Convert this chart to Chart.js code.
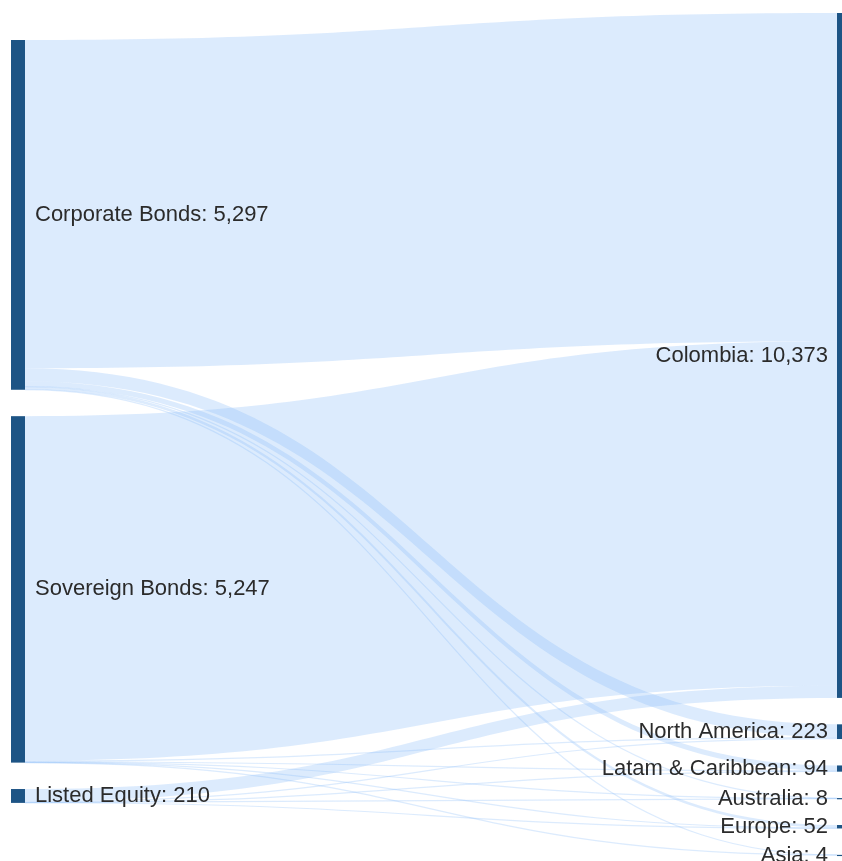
<!DOCTYPE html>
<html>
<head>
<meta charset="utf-8">
<script src="https://cdn.jsdelivr.net/npm/chart.js@4"></script>
<style>
  html, body { margin: 0; padding: 0; background: #ffffff; }
  #wrap { width: 842px; height: 861px; position: relative; }
</style>
</head>
<body>
<div id="wrap"><canvas id="flowChart"></canvas></div>
<script>
// Sankey of holdings by asset class (left) and by region (right).
const LEFT_NODES = ["Corporate Bonds", "Sovereign Bonds", "Listed Equity"];
const LEFT_TOTALS = [5297, 5247, 210];
const RIGHT_NODES = ["Colombia", "North America", "Latam & Caribbean", "Australia", "Europe", "Asia"];
const RIGHT_TOTALS = [10373, 223, 94, 8, 52, 4];

// Flows from each asset class to the regions, in RIGHT_NODES order.
const FROM_CORPORATE = [4972, 195, 80, 5, 42, 3];
const FROM_SOVEREIGN = [5215, 15, 8, 2, 6, 1];
const FROM_EQUITY = [186, 13, 6, 1, 4, 0];

// Layout, in value units on the y axis and fractions of width on the x axis.
const Y_MAX = 13040;
const NODE_PAD = 400;
const LEFT_START = 606;
const RIGHT_START = 197;
const LEFT_X = 11 / 842;
const RIGHT_X = 837 / 842;
const NODE_W = 14 / 842;

const NODE = "#1d5485";
const LINK = "rgba(140, 190, 250, 0.3)";
const INK = "#2b2b2b";
const FONT = "22px 'Liberation Sans', Arial, sans-serif";

const fmt = new Intl.NumberFormat("en-US");

const stack = (totals, start) => {
  let y = start;
  return totals.map((v) => {
    const top = y;
    y += v + NODE_PAD;
    return top;
  });
};

const leftTop = stack(LEFT_TOTALS, LEFT_START);
const rightTop = stack(RIGHT_TOTALS, RIGHT_START);
const flows = [FROM_CORPORATE, FROM_SOVEREIGN, FROM_EQUITY];

// Link end positions: outgoing stacked by target, incoming stacked by source.
const links = [];
const inOffset = rightTop.slice();
flows.forEach((row, s) => {
  let out = leftTop[s];
  row.forEach((v, t) => {
    links.push({ v, y0: out, y1: inOffset[t] });
    out += v;
    inOffset[t] += v;
  });
});

const sankeyPlugin = {
  id: "sankey",
  beforeDatasetsDraw(chart) {
    const { ctx } = chart;
    const x = chart.scales.x;
    const y = chart.scales.y;
    const x0 = x.getPixelForValue(LEFT_X + NODE_W);
    const x1 = x.getPixelForValue(RIGHT_X);
    const xm = (x0 + x1) / 2;
    ctx.save();
    links.forEach((l) => {
      if (l.v <= 0) return;
      const a0 = y.getPixelForValue(l.y0);
      const b0 = y.getPixelForValue(l.y0 + l.v);
      const a1 = y.getPixelForValue(l.y1);
      const b1 = y.getPixelForValue(l.y1 + l.v);
      if (b0 - a0 < 1.2) {
        const c0 = (a0 + b0) / 2;
        const c1 = (a1 + b1) / 2;
        ctx.beginPath();
        ctx.moveTo(x0, c0);
        ctx.bezierCurveTo(xm, c0, xm, c1, x1, c1);
        ctx.strokeStyle = LINK;
        ctx.lineWidth = 1.2;
        ctx.stroke();
        return;
      }
      ctx.beginPath();
      ctx.moveTo(x0, a0);
      ctx.bezierCurveTo(xm, a0, xm, a1, x1, a1);
      ctx.lineTo(x1, b1);
      ctx.bezierCurveTo(xm, b1, xm, b0, x0, b0);
      ctx.closePath();
      ctx.fillStyle = LINK;
      ctx.fill();
    });
    ctx.restore();
  },
  afterDatasetsDraw(chart) {
    const { ctx } = chart;
    const x = chart.scales.x;
    const y = chart.scales.y;
    const drawNode = (xv, top, v) => {
      const px0 = x.getPixelForValue(xv);
      const px1 = x.getPixelForValue(xv + NODE_W);
      const py0 = y.getPixelForValue(top);
      const h = Math.max(y.getPixelForValue(top + v) - py0, 1.2);
      ctx.fillStyle = NODE;
      ctx.fillRect(px0, py0, px1 - px0, h);
      return py0 + h / 2;
    };
    ctx.save();
    ctx.font = FONT;
    ctx.fillStyle = INK;
    ctx.textBaseline = "middle";
    LEFT_NODES.forEach((name, i) => {
      const mid = drawNode(LEFT_X, leftTop[i], LEFT_TOTALS[i]);
      ctx.textAlign = "left";
      ctx.fillStyle = INK;
      ctx.fillText(`${name}: ${fmt.format(LEFT_TOTALS[i])}`, x.getPixelForValue(LEFT_X + NODE_W) + 10, mid);
    });
    RIGHT_NODES.forEach((name, i) => {
      const mid = drawNode(RIGHT_X, rightTop[i], RIGHT_TOTALS[i]);
      ctx.textAlign = "right";
      ctx.fillStyle = INK;
      ctx.fillText(`${name}: ${fmt.format(RIGHT_TOTALS[i])}`, x.getPixelForValue(RIGHT_X) - 9, mid);
    });
    ctx.restore();
  }
};

new Chart(document.getElementById("flowChart"), {
  type: "scatter",
  data: { datasets: [] },
  options: {
    responsive: true,
    maintainAspectRatio: false,
    animation: false,
    layout: { padding: 0 },
    plugins: { legend: { display: false }, tooltip: { enabled: false } },
    scales: {
      x: { type: "linear", min: 0, max: 1, display: false },
      y: { type: "linear", min: 0, max: Y_MAX, reverse: true, display: false }
    }
  },
  plugins: [sankeyPlugin]
});
</script>
</body>
</html>
